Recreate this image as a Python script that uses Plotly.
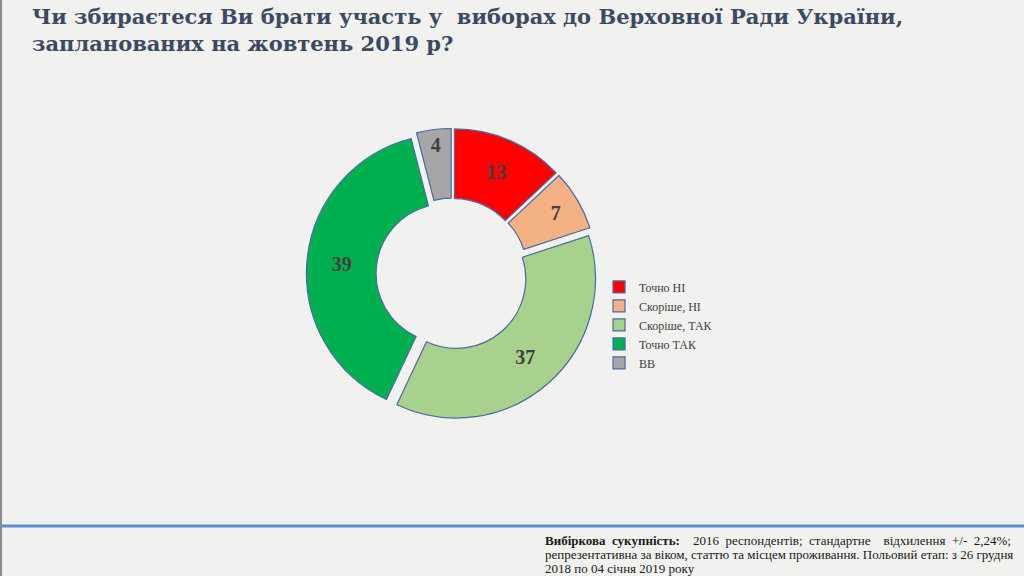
import plotly.graph_objects as go

categories = ["Точно НІ", "Скоріше, НІ", "Скоріше, ТАК", "Точно ТАК", "ВВ"]
values = [13, 7, 37, 39, 4]
colors = ["#ff0000", "#f4b183", "#a9d18e", "#00b050", "#a6a6a6"]

title_text = "Чи збираєтеся Ви брати участь у  виборах до Верховної Ради України,<br>запланованих на жовтень 2019 р?"
footnote_lines = [
    "<b>Вибіркова  сукупність:</b>    2016  респондентів;  стандартне    відхилення  +/-  2,24%;",
    "репрезентативна за віком, статтю та місцем проживання. Польовий етап: з 26 грудня",
    "2018 по 04 січня 2019 року",
]
footnote_y = [0.0625, 0.0365, 0.0122]

fig = go.Figure()
fig.add_trace(go.Pie(
    labels=categories,
    values=values,
    sort=False,
    direction="clockwise",
    rotation=0,
    hole=0.5,
    pull=[0.045] * len(values),
    marker=dict(colors=colors, line=dict(color="#4a6aa5", width=1.2)),
    texttemplate="<b>%{value}</b>",
    textposition="inside",
    insidetextorientation="horizontal",
    textfont=dict(family="Liberation Serif", size=20, color="#404040"),
    domain=dict(x=[0.2992, 0.5836], y=[0.2715, 0.777]),
    showlegend=True,
))

annotations = [
    dict(
        text="<b>" + title_text + "</b>", xref="paper", yref="paper",
        x=0.029, y=0.997, xanchor="left", yanchor="top", align="left", showarrow=False,
        font=dict(family="DejaVu Serif", size=21, color="#3b4a63"),
    )
]
for line, yy in zip(footnote_lines, footnote_y):
    annotations.append(dict(
        text=line, xref="paper", yref="paper", x=0.5303, y=yy, xanchor="left", yanchor="middle",
        align="left", showarrow=False,
        font=dict(family="Liberation Serif", size=13, color="#1a1a1a"),
    ))

fig.update_layout(
    width=1024, height=576,
    margin=dict(l=0, r=0, t=0, b=0),
    paper_bgcolor="#f1f1ef",
    plot_bgcolor="#f1f1ef",
    legend=dict(
        x=0.585, xanchor="left", y=0.527, yanchor="top",
        font=dict(family="Liberation Serif", size=12, color="#404040"),
        bgcolor="rgba(0,0,0,0)",
        itemwidth=30,
        tracegroupgap=0,
    ),
    shapes=[
        dict(type="line", xref="paper", yref="paper", x0=0, x1=1, y0=0.087, y1=0.087,
             line=dict(color="#5b8fd0", width=3)),
        dict(type="line", xref="paper", yref="paper", x0=0.001, x1=0.001, y0=0, y1=1,
             line=dict(color="#8a8a8a", width=2)),
    ],
    annotations=annotations,
)

fig.write_html("out.html", config={"displayModeBar": False},
               post_script="document.body.style.margin='0';document.body.style.overflow='hidden';")
